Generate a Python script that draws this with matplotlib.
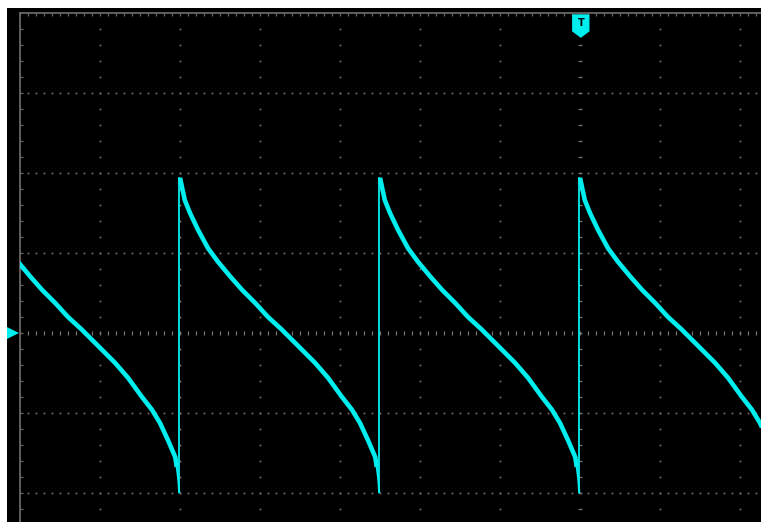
import numpy as np
import matplotlib
matplotlib.use('Agg')
import matplotlib.pyplot as plt
from matplotlib.patches import Polygon, Rectangle

# one sawtooth period, in divisions
# (time after the rising edge, level from the centre line)
phase_div = [0.00, 0.06, 0.125, 0.225, 0.35, 0.475, 0.625, 0.775, 0.94, 1.10, 1.275,
             1.525, 1.69, 1.85, 2.025, 2.15, 2.25, 2.35, 2.44, 2.46]
level_div = [1.94, 1.66, 1.50, 1.29, 1.06, 0.89, 0.71, 0.54, 0.375, 0.20, 0.04,
             -0.21, -0.375, -0.56, -0.80, -0.96, -1.125, -1.34, -1.55, -1.675]
# thin tail just before the edge
tail_phase = [2.46, 2.48, 2.49]
tail_level = [-1.675, -1.84, -1.99]
period_div = 2.5
edge_starts = [-7.5, -5.0, -2.5, 0.0]

trace_col = '#00eeee'
grid_col = '#777777'
frame_col = '#666666'

fig = plt.figure(figsize=(7.61, 5.22), dpi=100, facecolor='white')
ax = fig.add_axes([7/761, 0, 754/761, 514/522])
ax.set_xlim(-7.1625, 2.2625)
ax.set_ylim(-2.3625, 4.0625)
ax.axis('off')
ax.add_patch(Rectangle((-7.1625, -2.3625), 9.425, 6.425, color='black', zorder=0))

# graticule dots
for yr in [-2, -1, 1, 2, 3]:
    xs = np.arange(-7, 2.3, 0.1)
    ax.plot(xs, np.full_like(xs, yr), ls='none', marker='s', ms=1.2, mew=0, color=grid_col)
for xc in [-6, -5, -4, -3, -2, -1, 1, 2]:
    ys = np.arange(-2.4, 4.0, 0.2)
    ax.plot(np.full_like(ys, xc), ys, ls='none', marker='s', ms=1.2, mew=0, color=grid_col)

# centre axes with ticks
xt = np.arange(-7, 2.3, 0.1)
ax.vlines(xt, -0.025, 0.025, color=grid_col, lw=0.9)
yt = np.arange(-2.4, 4.0, 0.2)
ax.hlines(yt, -0.03, 0.03, color=grid_col, lw=0.9)

# frame (left & top) with ticks
ax.plot([-7, -7], [-2.4, 4.0], color=frame_col, lw=1.3)
ax.plot([-7, 2.3], [4.0, 4.0], color=frame_col, lw=1.3)
ax.vlines(xt, 3.96, 4.0, color=frame_col, lw=0.9)
ax.hlines(yt, -7, -6.96, color=frame_col, lw=0.9)

# trace
clip = Rectangle((-7, -2.4), 9.4, 6.4, transform=ax.transData)
for s in edge_starts:
    x = [s + p for p in phase_div]
    l1, = ax.plot(x, level_div, color=trace_col, lw=3.3, solid_capstyle='butt',
                  solid_joinstyle='round', zorder=5)
    xt2 = [s + p for p in tail_phase]
    l2, = ax.plot(xt2, tail_level, color=trace_col, lw=1.5, zorder=5)
    l1.set_clip_path(clip)
    l2.set_clip_path(clip)
    edge = s + period_div
    l3, = ax.plot([edge - 0.01, edge - 0.01], [tail_level[-1], level_div[0]],
                  color=trace_col, lw=1.3, zorder=5)
    l3.set_clip_path(clip)

# channel marker on the left
ax.plot([-7.115], [0], marker='>', ms=12, color=trace_col, mew=0, zorder=6)

# trigger marker
tri = Polygon([(-0.09, 3.975), (0.11, 3.975), (0.11, 3.775), (0.01, 3.70), (-0.09, 3.775)],
              closed=True, color=trace_col, zorder=6)
ax.add_patch(tri)
ax.text(0.01, 3.87, 'T', color='black', fontsize=7, fontweight='bold',
        ha='center', va='center', zorder=7)

fig.savefig('out.png', dpi=100, facecolor='white')
